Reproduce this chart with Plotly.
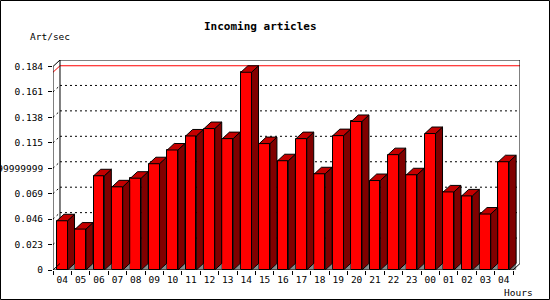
import plotly.graph_objects as go

# ---------------- data ----------------
hours = ["04", "05", "06", "07", "08", "09", "10", "11", "12", "13", "14", "15",
         "16", "17", "18", "19", "20", "21", "22", "23", "00", "01", "02", "03", "04"]
rate = [0.0445, 0.0370, 0.0852, 0.0752, 0.0830, 0.0961, 0.1085, 0.1212, 0.1279,
        0.1188, 0.1788, 0.1143, 0.0988, 0.1188, 0.0870, 0.1215, 0.1343, 0.0809,
        0.1043, 0.0861, 0.1234, 0.0706, 0.0670, 0.0506, 0.0979]
ytick_vals = [0, 0.023, 0.046, 0.069, 0.092, 0.115, 0.138, 0.161, 0.184]
ytick_text = ["0", "0.023", "0.046", "0.069", "0.0919999999999", "0.115", "0.138", "0.161", "0.184"]
title = "Incoming articles"
ylabel = "Art/sec"
xlabel = "Hours"

# ---------------- geometry / style ----------------
W, H = 550, 300
L, R, T, B = 53, 30, 60, 30
PW, PH = W - L - R, H - T - B
n = len(hours)
dx = 0.38                     # depth in category units
ymax = ytick_vals[-1]
depth_px = 6.5
dy = depth_px * ymax / (PH - depth_px)
xr_max = n + dx
yr_max = ymax + dy
bw = 0.58

FONT = "DejaVu Sans Mono"
RED, TOP, SIDE, GRAY = "#ff0000", "#c40000", "#800000", "#8a8a8a"

centers = [i + 0.5 for i in range(n)]

fig = go.Figure()

# gray floor triangles under the side faces
gx, gy = [], []
for c in centers:
    xr = c + bw / 2
    gx += [xr, xr + dx, xr + dx, xr, None]
    gy += [0, 0, dy, 0, None]
fig.add_trace(go.Scatter(x=gx, y=gy, mode="lines", fill="toself", fillcolor=GRAY,
                         line=dict(width=0, color=GRAY), hoverinfo="skip", showlegend=False))

# front faces
fig.add_trace(go.Bar(x=centers, y=rate, width=bw, marker=dict(color=RED, line=dict(color="black", width=1)),
                     hoverinfo="skip", showlegend=False))

# side faces
sx, sy = [], []
for c, v in zip(centers, rate):
    xr = c + bw / 2
    sx += [xr, xr, xr + dx, xr + dx, xr, None]
    sy += [0, v, v + dy, dy, 0, None]
fig.add_trace(go.Scatter(x=sx, y=sy, mode="lines", fill="toself", fillcolor=SIDE,
                         line=dict(width=1, color="black"), hoverinfo="skip", showlegend=False))

# top faces
tx, ty = [], []
for c, v in zip(centers, rate):
    xl, xr = c - bw / 2, c + bw / 2
    tx += [xl, xl + dx, xr + dx, xr, xl, None]
    ty += [v, v + dy, v + dy, v, v, None]
fig.add_trace(go.Scatter(x=tx, y=ty, mode="lines", fill="toself", fillcolor=TOP,
                         line=dict(width=1, color="black"), hoverinfo="skip", showlegend=False))

shapes = []
# back-wall dotted grid + side-wall stubs
for t in ytick_vals[1:-1]:
    shapes.append(dict(type="line", xref="x", yref="y", x0=dx, x1=n + dx, y0=t + dy, y1=t + dy,
                       line=dict(color="black", width=1, dash="2px,3px"), layer="below"))
    shapes.append(dict(type="line", xref="x", yref="y", x0=0, x1=dx, y0=t, y1=t + dy,
                       line=dict(color="black", width=1, dash="2px,3px"), layer="below"))
# max line
vmax = max(rate)
shapes.append(dict(type="line", xref="x", yref="y", x0=dx, x1=n + dx, y0=vmax + dy, y1=vmax + dy,
                   line=dict(color=RED, width=1), layer="below"))
shapes.append(dict(type="line", xref="x", yref="y", x0=0, x1=dx, y0=vmax, y1=vmax + dy,
                   line=dict(color=RED, width=1), layer="below"))
# back wall box
for (x0, y0, x1, y1) in [(dx, dy, dx, ymax + dy), (dx, ymax + dy, n + dx, ymax + dy),
                         (n + dx, dy, n + dx, ymax + dy)]:
    shapes.append(dict(type="line", xref="x", yref="y", x0=x0, x1=x1, y0=y0, y1=y1,
                       line=dict(color="black", width=1), layer="below"))
# front axes
for (x0, y0, x1, y1) in [(0, 0, 0, ymax), (0, ymax, dx, ymax + dy), (0, 0, n, 0),
                         (n, 0, n + dx, dy), (0, 0, dx, dy)]:
    shapes.append(dict(type="line", xref="x", yref="y", x0=x0, x1=x1, y0=y0, y1=y1,
                       line=dict(color="black", width=1), layer="above"))
# outer frame
shapes.append(dict(type="rect", xref="paper", yref="paper",
                   x0=(0.5 - L) / PW, x1=(W - 0.5 - L) / PW,
                   y0=(H - B - (H - 0.5)) / PH, y1=(H - B - 0.5) / PH,
                   line=dict(color="black", width=1)))

annotations = [
    dict(text="<b>%s</b>" % title, xref="paper", yref="paper", x=(260 - L) / PW, y=(H - B - 27) / PH,
         xanchor="center", yanchor="middle", showarrow=False, font=dict(family=FONT, size=11, color="black")),
    dict(text=ylabel, xref="paper", yref="paper", x=(28 - L) / PW, y=(H - B - 37) / PH,
         xanchor="left", yanchor="middle", showarrow=False, font=dict(family=FONT, size=9.5, color="black")),
    dict(text=xlabel, xref="paper", yref="paper", x=(535 - L) / PW, y=(H - B - 292) / PH,
         xanchor="right", yanchor="middle", showarrow=False, font=dict(family=FONT, size=9.5, color="black")),
]

fig.update_layout(
    width=W, height=H, margin=dict(l=L, r=R, t=T, b=B, pad=0, autoexpand=False),
    paper_bgcolor="white", plot_bgcolor="white", showlegend=False,
    shapes=shapes, annotations=annotations, bargap=0,
    font=dict(family=FONT, size=9.5, color="black"),
    xaxis=dict(range=[0, xr_max], tickvals=centers, ticktext=hours, ticks="", showgrid=False,
               zeroline=False, showline=False, automargin=False, ticklabelstandoff=2,
               tickfont=dict(family=FONT, size=9.5)),
    xaxis2=dict(range=[0, xr_max], overlaying="x", anchor="y", side="bottom", automargin=False,
                tickvals=list(range(n + 1)), showticklabels=False, ticks="outside", ticklen=4,
                tickcolor="black", showgrid=False, zeroline=False, showline=False),
    yaxis=dict(range=[0, yr_max], tickvals=ytick_vals, ticktext=ytick_text, ticks="outside",
               ticklen=4, tickcolor="black", showgrid=False, zeroline=False, showline=False,
               automargin=False, ticklabelstandoff=3, tickfont=dict(family=FONT, size=9.5)),
)
# dummy trace to activate xaxis2
fig.add_trace(go.Scatter(x=[0], y=[0], xaxis="x2", yaxis="y", mode="markers",
                         marker=dict(opacity=0), hoverinfo="skip", showlegend=False))

fig.write_html("out.html")
